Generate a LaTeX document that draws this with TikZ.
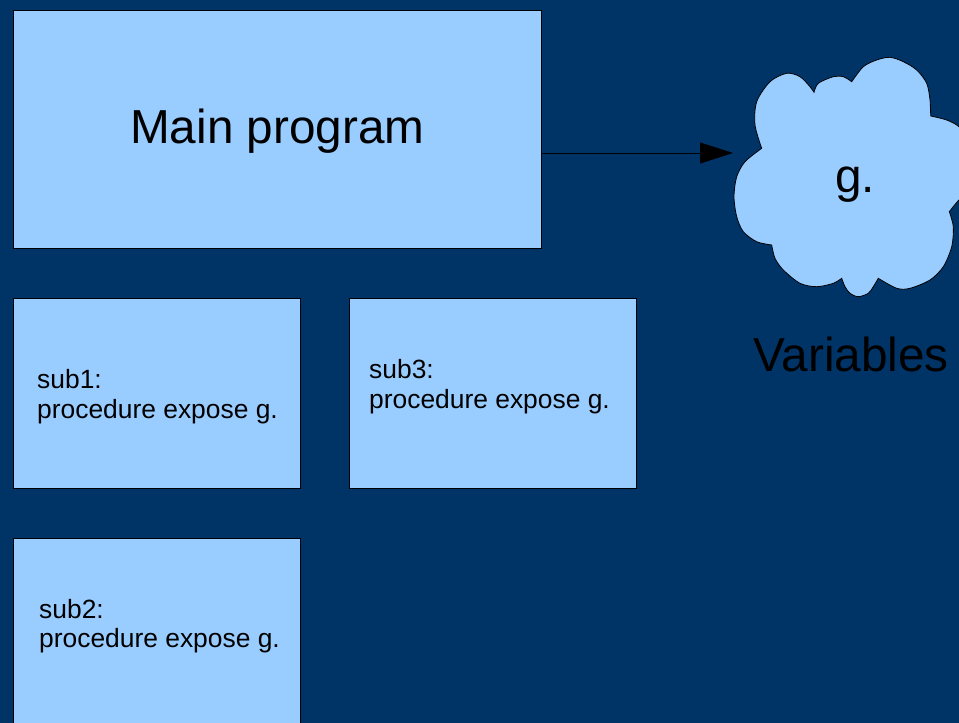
\documentclass[tikz,border=0pt]{standalone}
\usepackage{fontspec}
\setmainfont{Liberation Sans}
\usetikzlibrary{arrows.meta}
\definecolor{bgblue}{HTML}{003366}
\definecolor{boxblue}{HTML}{99CCFF}
\tikzset{
  box/.style={draw=black, line width=0.8pt, fill=boxblue, rectangle, inner sep=0pt, anchor=north west},
  bigtxt/.style={inner sep=0pt, anchor=base west, font=\fontsize{47.7}{53}\selectfont, text=black},
  smalltxt/.style={inner sep=0pt, anchor=base west, font=\fontsize{26.4}{29.5}\selectfont, text=black},
  cloudshape/.style={draw=black, line width=0.8pt, fill=boxblue},
  conn/.style={draw=black, line width=0.8pt, -{Triangle[length=33pt,width=21pt]}}
}
\begin{document}
\begin{tikzpicture}[x=1pt,y=-1pt]
\fill[bgblue] (0,0) rectangle (959,723);
\useasboundingbox (0,0) rectangle (959,723);
\clip (0,0) rectangle (959,723);
% boxes
\node[box, minimum width=528pt, minimum height=238pt] (main) at (13,10) {};
\node[box, minimum width=287pt, minimum height=190pt] (sub1) at (13,298) {};
\node[box, minimum width=287pt, minimum height=190pt] (sub3) at (349,298) {};
\node[box, minimum width=287pt, minimum height=210pt] (sub2) at (13,538) {};
% texts
\node[bigtxt] (maintxt) at (130,143.3) {Main program};
\node[smalltxt] (sub1a) at (37,388) {sub1:};
\node[smalltxt] (sub1b) at (37,418) {procedure expose g.};
\node[smalltxt] (sub3a) at (369,378) {sub3:};
\node[smalltxt] (sub3b) at (369,408) {procedure expose g.};
\node[smalltxt] (sub2a) at (39,618) {sub2:};
\node[smalltxt] (sub2b) at (39,647) {procedure expose g.};
% cloud
\path[cloudshape]
  plot[smooth] coordinates {(761.7,148.3) (755,125) (756.7,101.7) (770,81.7) (786.7,73.3) (800,76.7) (810,86.7) (814,92.3)}
  -- plot[smooth] coordinates {(814,92.3) (818.3,83.3) (833.3,76.7) (843.3,76.7) (851.7,81.7)}
  -- plot[smooth] coordinates {(851.7,81.7) (863.3,66.7) (876.7,60) (890,57.3) (903.3,61.7) (916.7,70) (926.7,83.3) (930,100) (930.7,116)}
  -- plot[smooth] coordinates {(930.7,116) (946.7,120) (959,126.7) (970,140) (976,170) (970,192) (959,200) (949.3,211.7)}
  -- plot[smooth] coordinates {(949.3,211.7) (953.3,226.7) (951.7,246.7) (943.3,266.7) (930,280) (910,288.3) (896.7,288.3) (878.3,278.3)}
  -- plot[smooth] coordinates {(878.3,278.3) (873.3,286.7) (868.3,293.3) (858.3,296.7) (850,293.3) (845,286.7) (841.7,278.3)}
  -- plot[smooth] coordinates {(841.7,278.3) (833.3,283.3) (816.7,286.7) (800,283.3) (783.3,270) (775,258.3) (771.7,245)}
  -- plot[smooth] coordinates {(771.7,245) (756.7,241.7) (743.3,231.7) (736.7,216.7) (734,196.7) (736.7,176.7) (745,161.7) (761.7,148.3)}
  -- cycle;
\node[bigtxt] (gtxt) at (835,192.7) {g.};
\node[bigtxt] (vartxt) at (753.3,371.7) {Variables};
\coordinate (gtip) at (733,153);
\draw[conn] (main.east |- gtip) -- (gtip);
\end{tikzpicture}
\end{document}
